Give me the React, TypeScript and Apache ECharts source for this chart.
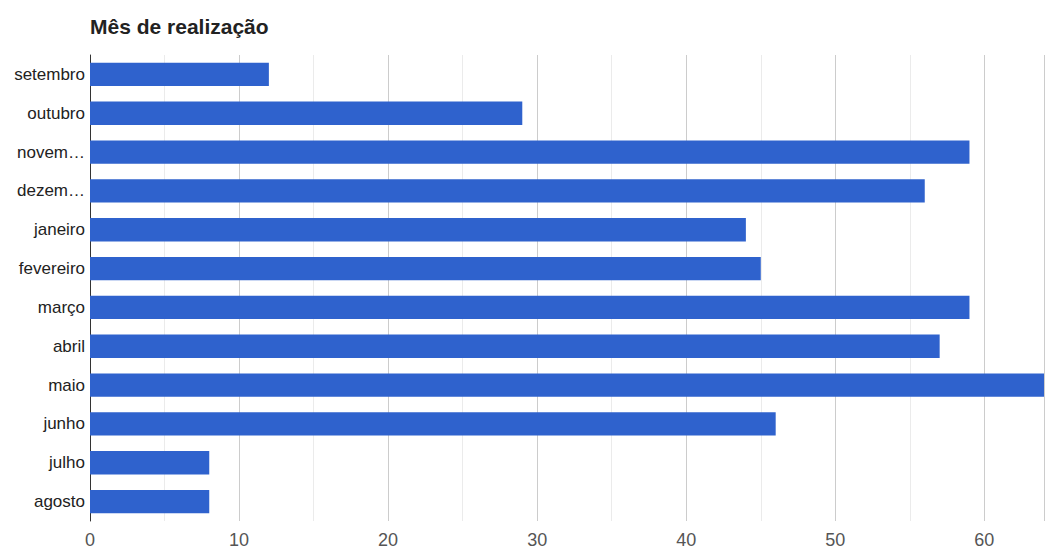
import React, { useEffect, useRef } from "react";
import * as echarts from "echarts";

const months = [
  "setembro",
  "outubro",
  "novembro",
  "dezembro",
  "janeiro",
  "fevereiro",
  "março",
  "abril",
  "maio",
  "junho",
  "julho",
  "agosto",
];
const counts = [12, 29, 59, 56, 44, 45, 59, 57, 64, 46, 8, 8];
const titleText = "Mês de realização";

export default function App() {
  const ref = useRef<HTMLDivElement>(null);
  useEffect(() => {
    if (!ref.current) return;
    const chart = echarts.init(ref.current, undefined, { renderer: "svg" });
    chart.setOption({
      animation: false,
      backgroundColor: "#ffffff",
      title: {
        text: titleText,
        left: 85,
        top: 11,
        textStyle: {
          fontFamily: "Arial, Liberation Sans",
          fontSize: 21,
          fontWeight: "bold",
          color: "#222222",
        },
      },
      grid: { left: 90, right: 4, top: 55, bottom: 31, containLabel: false },
      xAxis: {
        type: "value",
        min: 0,
        max: 64,
        interval: 10,
        axisLine: { show: false },
        axisTick: { show: false },
        axisLabel: {
          color: "#555555",
          fontSize: 18,
          fontFamily: "Arial, Liberation Sans",
          margin: 10,
          showMaxLabel: false,
        },
        splitLine: { show: true, lineStyle: { color: "#cccccc", width: 1 } },
        minorTick: { show: false, splitNumber: 2 },
        minorSplitLine: { show: true, lineStyle: { color: "#ebebeb", width: 1 } },
      },
      yAxis: {
        type: "category",
        data: months,
        inverse: true,
        axisLine: { show: true, lineStyle: { color: "#333333", width: 1 } },
        axisTick: { show: false },
        axisLabel: {
          color: "#222222",
          fontSize: 17,
          fontFamily: "Arial, Liberation Sans",
          margin: 5,
          width: 72,
          overflow: "truncate",
          ellipsis: "…",
        },
      },
      series: [
        {
          type: "bar",
          data: counts,
          barCategoryGap: "40%",
          itemStyle: { color: "#2f62cd" },
        },
      ],
    });
    return () => chart.dispose();
  }, []);
  return (
    <div
      ref={ref}
      style={{ position: "fixed", left: 0, top: 0, width: 1048, height: 552 }}
    />
  );
}
